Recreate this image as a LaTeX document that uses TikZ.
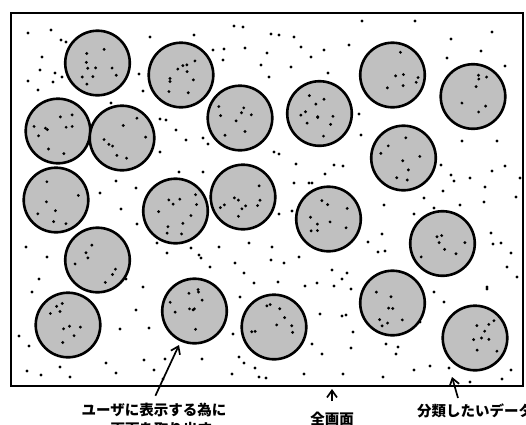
\documentclass[tikz,border=0pt]{standalone}
\usepackage{fontspec}
\newfontfamily\jpfont{Noto Sans CJK JP}
\usepackage{xcolor}
\definecolor{blobfill}{HTML}{C0C0C0}
\definecolor{ink}{HTML}{000000}
\usetikzlibrary{arrows.meta,positioning}

\begin{document}
\begin{tikzpicture}[x=1pt, y=-1pt, >=Stealth,
	blob/.style={fill=blobfill, draw=ink, line width=2.6pt},
	speck/.style={fill=ink},
	pointer/.style={ink, line width=1.7pt, -{Straight Barb[length=7pt,width=10pt]}},
	caption/.style={font=\jpfont\bfseries\fontsize{14.5}{19}\selectfont, inner sep=0pt, align=center}]

		\useasboundingbox (0,0) rectangle (526,424);

		% ================= the whole screen =================
		\node[draw=ink, line width=2.8pt, minimum width=512pt, minimum height=373pt,
			inner sep=0pt, outer sep=0pt, anchor=north west] (screen) at (11,13) {};

		% loose data points, outside the clusters
		\foreach \x/\y in {28/33, 51/30, 61/40, 66/42, 42/57, 40/70, 55/73, 62/77, 28/81, 53/82, 38/90,
			150/37, 194/35, 139/74, 143/91, 111/103, 160/119, 166/120, 176/130, 186/140, 203/138, 208/144,
			160/152, 179/172, 203/172, 116/181, 136/188, 100/193, 213/50, 223/60, 224/49, 234/26, 243/27,
			245/48, 261/65,
			362/21, 415/21, 271/34, 279/35, 294/37, 267/53, 301/47, 324/50, 311/57, 349/45, 291/67, 328/73,
			269/77, 451/39, 492/32, 481/51, 447/58, 505/66, 359/114, 361/135, 274/152, 279/154, 296/164,
			334/165, 343/166, 325/174, 294/183, 309/183, 312/183, 462/141, 497/141, 441/165, 451/175,
			454/181, 470/178, 492/171, 505/166, 485/187, 443/191, 520/178, 424/198, 516/197,
			121/209, 137/224, 26/247, 47/257, 39/279, 32/292, 126/279, 143/287, 136/310, 120/329, 149/328,
			157/243, 167/253, 191/248, 199/255, 201/258, 210/267, 219/247, 235/263, 244/273, 249/243,
			254/283, 240/297, 233/334, 19/336, 29/346,
			384/205, 414/214, 434/208, 460/205, 484/202, 279/214, 292/211, 491/233, 493/244, 501/243,
			511/253, 507/267, 517/277, 272/247, 271/260, 284/263, 299/257, 368/242, 382/234, 378/252,
			385/251, 332/270, 347/273, 342/279, 278/282, 305/286, 317/283, 334/286, 351/289, 434/292,
			444/302, 487/287, 487/289, 320/314, 342/316, 346/315, 353/332, 312/344, 351/348, 386/344,
			398/347, 420/322,
			27/371, 41/375, 60/367, 70/377, 106/363, 116/373, 144/360, 154/370, 165/359, 163/379, 202/359,
			239/357, 244/363, 255/368, 232/374, 259/377, 322/354, 396/354, 266/378, 304/374, 343/374,
			383/377, 414/370, 430/366, 449/368, 470/382, 502/379, 511/370}
			\fill[speck] (\x,\y) circle (1.6pt);

		% ================= clusters, each with its own points =================
		\pgfmathsetseed{11}
		\foreach \cx/\cy [count=\i] in {97.5/63, 181/75, 58/131, 122/138, 240/118, 319.5/113.5,
			392.5/75, 473/96.5, 403.5/158, 56/200, 175.5/211, 243/197, 328.5/219, 97.5/260,
			442.5/243.5, 68/325, 194.5/311, 274/327, 392.5/303, 475/338}{
			\coordinate (blob\i) at (\cx,\cy);
			\draw[blob] (blob\i) circle (32.3pt);
			\pgfmathsetmacro{\n}{int(7+5*rnd)}
			\foreach \k in {1,...,\n}{
				\pgfmathsetmacro{\ang}{360*rnd}
				\pgfmathsetmacro{\rad}{26*sqrt(rnd)}
				\fill[speck] (blob\i) ++(\ang:\rad pt) circle (1.6pt);
			}
		}

		% ================= captions and pointers =================
		\node[caption, anchor=north] (userlbl) at (154,403) {ユーザに表示する為に\\一画面を取り出す};
		\node[caption, anchor=north] (alllbl) at (332,412) {全画面};
		\node[caption, anchor=north west] (datalbl) at (417,404) {分類したいデータ};

		\coordinate (pick) at (179,345);    % the screen handed to the user
		\coordinate (sample) at (452,377);  % one data point
		\coordinate (screenhit) at (alllbl.north |- screen.south);

		\draw[pointer, shorten <=8pt] ([xshift=-2pt]userlbl.north) -- (pick);
		\draw[pointer] ([yshift=11pt]alllbl.north) -- ([yshift=-3pt]screenhit);
		\draw[pointer] ([xshift=41pt,yshift=6pt]datalbl.north west) -- (sample);

	\end{tikzpicture}
\end{document}
